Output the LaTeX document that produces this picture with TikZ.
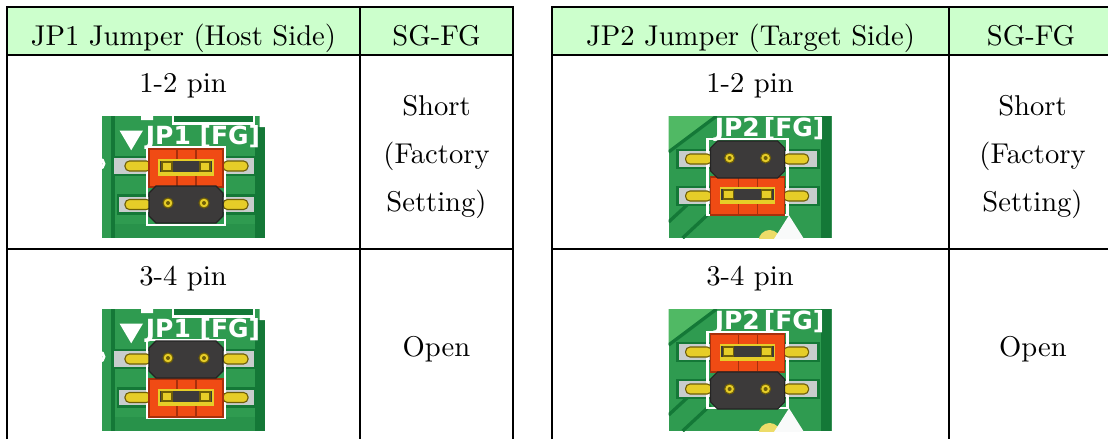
\documentclass[tikz,border=0pt]{standalone}
\usepackage{fontspec}
\newfontfamily\pcbfont{DejaVu Sans}
\definecolor{hdgreen}{HTML}{CCFFCC}
\definecolor{pcb}{HTML}{2F9B50}
\definecolor{pcbdark}{HTML}{147837}
\definecolor{pcblight}{HTML}{50B964}
\definecolor{padgrey}{HTML}{C8CDCD}
\definecolor{pingold}{HTML}{E6CD28}
\definecolor{pinedge}{HTML}{6E5E08}
\definecolor{capred}{HTML}{F04B14}
\definecolor{capedge}{HTML}{A8300C}
\definecolor{capblack}{HTML}{3C3A3A}
\tikzset{
  rule/.style={line width=1pt, black},
  cell/.style={font=\fontsize{10.3}{17.3}\selectfont, inner sep=0pt, anchor=base},
  pcblabel/.style={text=white, font=\pcbfont\bfseries\fontsize{9}{9}\selectfont, inner sep=0pt},
}
% one strip of pads: x left, y top, x right
\newcommand{\padrow}[3]{%
  \filldraw[pcbdark, fill=padgrey, line width=1pt] (#1,#2) rectangle (#3,#2+18);}
% two gold pins: left x, right x, y top
\newcommand{\pinpair}[3]{%
  \filldraw[pinedge, fill=pingold, line width=0.4pt, rounded corners=1.6pt]
    (#1,#3) rectangle (#1+26,#3+10) (#2,#3) rectangle (#2+25,#3+10);}
% black jumper cap at x, y
\newcommand{\blackcap}[2]{%
  \filldraw[capblack!60!black, fill=capblack, line width=0.4pt]
    (#1+7,#2) -- (#1+67,#2) -- (#1+74,#2+7) -- (#1+74,#2+30)
    -- (#1+67,#2+37) -- (#1+7,#2+37) -- (#1,#2+30) -- (#1,#2+7) -- cycle;
  \filldraw[pinedge, fill=pingold, line width=0.4pt]
    (#1+19,#2+17) circle[radius=5] (#1+55,#2+17) circle[radius=5];
  \fill[pinedge] (#1+19,#2+17) circle[radius=2] (#1+55,#2+17) circle[radius=2];}
% red jumper cap at x, y
\newcommand{\redcap}[2]{%
  \filldraw[capedge, fill=capred, line width=0.5pt] (#1,#2) rectangle (#1+74,#2+38);
  \draw[capedge, line width=0.6pt] (#1+28,#2) -- (#1+28,#2+38) (#1+47,#2) -- (#1+47,#2+38);
  \filldraw[pingold, fill=capblack, line width=0.6pt] (#1+10,#2+11) rectangle (#1+64,#2+26);
  \filldraw[pinedge, fill=pingold, line width=0.4pt]
    (#1+13,#2+13) rectangle (#1+23,#2+22) (#1+51,#2+13) rectangle (#1+61,#2+22);
  \fill[pingold] (#1+10,#2+22.5) rectangle (#1+64,#2+25.5);}
% JP1 photo: x, y, red cap y, black cap y, label name
\newcommand{\photohost}[5]{%
  \begin{scope}[shift={(#1,#2)}]
  \clip (0,0) rectangle (163,122);
  \fill[pcb] (0,0) rectangle (163,122);
  \fill[pcbdark] (9,0) rectangle (12.5,122);
  \fill[pcbdark] (153,11) rectangle (163,122);
  \fill[pcb!75!pcbdark] (12.5,108) rectangle (153,122);
  \filldraw[white, fill=pcbdark, line width=0.8pt] (71,-3) rectangle (152,7.5);
  \fill[white] (157.5,0) rectangle (163,11) (39,0) rectangle (51,4);
  \fill[white] (17.5,14.5) -- (41,14.5) -- (29.2,34.3) -- cycle;
  \node[pcblabel] (#5) at (101,22) {JP1 [FG]};
  \draw[white, line width=1pt] (-3,47.7) circle[radius=5];
  \padrow{11}{41}{153}
  \padrow{16}{79.5}{153}
  \draw[white, line width=0.8pt] (45,31) rectangle (123,109);
  \pinpair{23}{121}{45}
  \pinpair{23}{121}{83.5}
  \redcap{47}{#3}
  \blackcap{47}{#4}
  \end{scope}}
% JP2 photo: x, y, red cap y, black cap y, label name
\newcommand{\phototarget}[5]{%
  \begin{scope}[shift={(#1,#2)}]
  \clip (0,0) rectangle (163,122);
  \fill[pcb] (0,0) rectangle (163,122);
  \fill[pcblight] (0,0) -- (48,0) -- (0,36) -- cycle;
  \draw[pcbdark, line width=1.2pt] (48,0) -- (0,36);
  \draw[pcbdark, line width=1.2pt] (0,106) -- (40,69) (14,122) -- (42,96);
  \fill[pcbdark] (152,0) rectangle (163,122);
  \node[pcblabel] (#5) at (101,13.5) {JP2\,[FG]};
  \padrow{9}{34}{150}
  \padrow{9}{71}{150}
  \draw[white, line width=0.8pt] (39,23) rectangle (119,99);
  \pinpair{17}{115}{38}
  \pinpair{17}{115}{75}
  \redcap{42}{#3}
  \blackcap{42}{#4}
  \fill[pingold!70!white] (101,125) circle[radius=11];
  \fill[white!90!padgrey] (105.4,123) -- (120.4,99.3) -- (135.4,123) -- cycle;
  \end{scope}}
\begin{document}
\begin{tikzpicture}[x=0.36pt, y=-0.36pt]
\useasboundingbox (0,0) rectangle (1108,439);
% header rows
\fill[hdgreen] (7,7) rectangle (513,55);
\fill[hdgreen] (552,7) rectangle (1108,55);
% host side
\draw[rule] (7,439) -- (7,7) -- (513,7) -- (513,439);
\draw[rule] (360,7) -- (360,439);
\draw[rule] (7,55) -- (513,55) (7,249) -- (513,249);
\node[cell] (hostHead) at (183.5,45) {JP1 Jumper (Host Side)};
\node[cell] (hostSG) at (436.5,45) {SG-FG};
\node[cell] (hostPinA) at (183,92) {1-2 pin};
\node[cell, anchor=center, align=center] (hostShort) at (436.5,156.6) {Short\\(Factory\\Setting)};
\node[cell] (hostPinB) at (183,285) {3-4 pin};
\node[cell] (hostOpen) at (436.5,356.7) {Open};
\photohost{102}{116}{33}{70}{hostLabelA}
\photohost{102}{309}{70}{32}{hostLabelB}
% target side
\draw[rule] (552,439) -- (552,7) -- (1108,7);
\draw[rule] (949,7) -- (949,439);
\draw[rule] (552,55) -- (1108,55) (552,249) -- (1108,249);
\node[cell] (targetHead) at (750.5,45) {JP2 Jumper (Target Side)};
\node[cell] (targetSG) at (1031,45) {SG-FG};
\node[cell] (targetPinA) at (750,92) {1-2 pin};
\node[cell, anchor=center, align=center] (targetShort) at (1032.5,156.6) {Short\\(Factory\\Setting)};
\node[cell] (targetPinB) at (750,285) {3-4 pin};
\node[cell] (targetOpen) at (1033,356.7) {Open};
\phototarget{668.6}{116}{61}{25}{targetLabelA}
\phototarget{668.6}{309}{25}{63}{targetLabelB}
\end{tikzpicture}
\end{document}
